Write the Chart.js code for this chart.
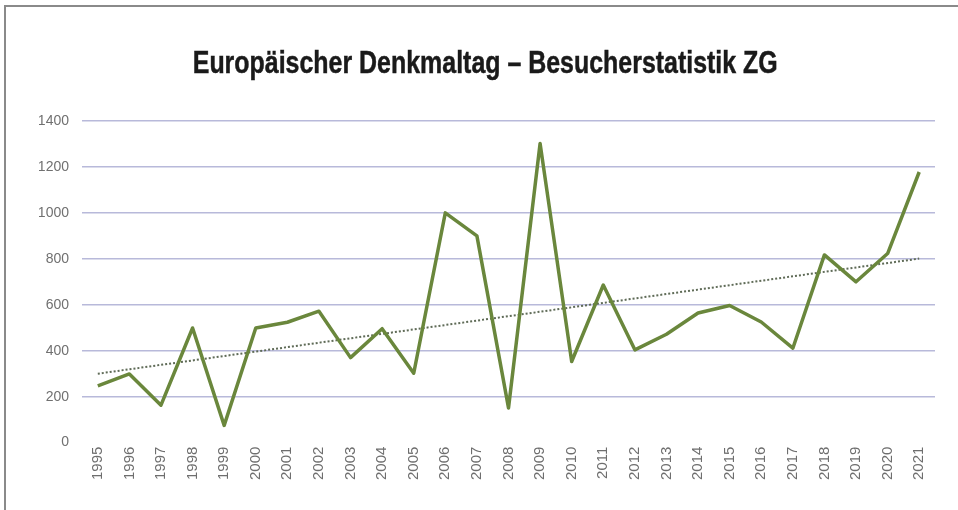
<!DOCTYPE html>
<html>
<head>
<meta charset="utf-8">
<script src="https://cdn.jsdelivr.net/npm/chart.js@4.4.0/dist/chart.umd.min.js"></script>
<style>
  html, body { margin: 0; padding: 0; background: #ffffff; }
  #wrap { position: relative; width: 958px; height: 510px; overflow: hidden; }
  #frame { position: absolute; left: 4px; top: 5px; right: -4px; bottom: -4px;
           border-left: 2px solid #8a8a8a; border-top: 2px solid #8a8a8a; pointer-events: none; }
  canvas { position: absolute; left: 0; top: 0; }
  #title { position: absolute; left: 6px; top: 42px; width: 958px; text-align: center;
           font-family: 'Liberation Sans', Arial, sans-serif; font-weight: bold; font-size: 32px;
           line-height: 40px; color: #1a1a1a; white-space: nowrap; -webkit-text-stroke: 0.5px #1a1a1a; }
  #title span { display: inline-block; transform-origin: 50% 50%; }
</style>
</head>
<body>
<div id="wrap">
  <canvas id="c" width="958" height="510"></canvas>
  <div id="title"><span id="tspan"></span></div>
  <div id="frame"></div>
</div>
<script>
const years = ["1995","1996","1997","1998","1999","2000","2001","2002","2003","2004","2005","2006","2007","2008","2009","2010","2011","2012","2013","2014","2015","2016","2017","2018","2019","2020","2021"];
const visitors = [247, 299, 163, 499, 75, 499, 524, 572, 370, 496, 302, 1000, 900, 151, 1302, 353, 686, 404, 472, 564, 597, 525, 411, 817, 700, 823, 1178];
const trend = [300, null, null, null, null, null, null, null, null, null, null, null, null, null, null, null, null, null, null, null, null, null, null, null, null, null, 801];
const yTicks = [0, 200, 400, 600, 800, 1000, 1200, 1400];
const titleText = "Europäischer Denkmaltag – Besucherstatistik ZG";

// title as real text, horizontally condensed to mimic the condensed face
const tspan = document.getElementById('tspan');
tspan.textContent = titleText;
const w = tspan.getBoundingClientRect().width;
tspan.style.transform = 'scaleX(' + (585 / w) + ')';

new Chart(document.getElementById('c'), {
  type: 'line',
  data: {
    labels: years,
    datasets: [
      {
        label: 'Besucher',
        data: visitors,
        borderColor: '#6a873c',
        borderWidth: 3.5,
        pointRadius: 0,
        tension: 0,
        fill: false,
        borderJoinStyle: 'round'
      },
      {
        label: 'Trend',
        data: trend,
        spanGaps: true,
        borderColor: '#5f6b57',
        borderWidth: 2,
        borderDash: [2, 2],
        pointRadius: 0,
        fill: false
      }
    ]
  },
  options: {
    responsive: false,
    animation: false,
    layout: { padding: { left: 39, right: 23, top: 121, bottom: 26 } },
    plugins: {
      legend: { display: false },
      tooltip: { enabled: false },
      title: { display: false }
    },
    scales: {
      x: {
        offset: true,
        border: { display: false },
        grid: { display: false, drawTicks: false },
        ticks: {
          color: '#6e6e6e',
          font: { family: "'Liberation Sans', Arial, sans-serif", size: 15 },
          minRotation: 90,
          maxRotation: 90,
          padding: 4,
          autoSkip: false
        }
      },
      y: {
        min: 0,
        max: 1400,
        border: { display: false },
        afterBuildTicks: (axis) => { axis.ticks = yTicks.map(v => ({ value: v })); },
        afterFit: (axis) => { axis.width = 43; },
        grid: {
          drawTicks: false,
          lineWidth: 1.5,
          color: (ctx) => (ctx.tick && ctx.tick.value === 0) ? 'rgba(0,0,0,0)' : '#b8b9da'
        },
        ticks: {
          color: '#707070',
          font: { family: "'Liberation Sans', Arial, sans-serif", size: 14 },
          padding: 13,
          callback: (v) => String(v)
        }
      }
    }
  }
});
</script>
</body>
</html>
